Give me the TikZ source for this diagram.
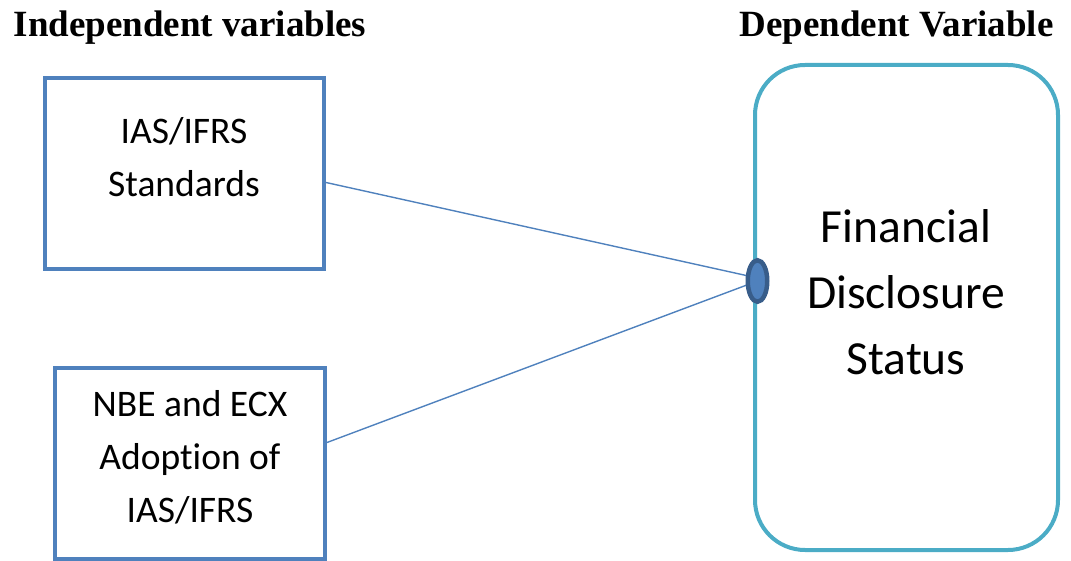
\documentclass[tikz,border=0pt]{standalone}
\usepackage{fontspec}
\setmainfont{Liberation Serif}
\newfontfamily\calib[Ligatures={NoCommon}]{Carlito}
\usetikzlibrary{shapes.geometric}
\definecolor{boxblue}{RGB}{79,129,189}
\definecolor{aqua}{RGB}{75,172,198}
\definecolor{darkblue}{RGB}{56,93,138}
\tikzset{
  varbox/.style={draw=boxblue, line width=4pt, rectangle, inner sep=0pt},
  depbox/.style={draw=aqua, line width=4pt, rectangle, rounded corners=50pt, inner sep=0pt},
  smalltxt/.style={font=\calib\fontsize{37.5}{53}\selectfont, align=center, inner sep=0pt},
  bigtxt/.style={font=\calib\fontsize{47.5}{66}\selectfont, align=center, inner sep=0pt},
  title/.style={font=\bfseries\fontsize{37}{42}\selectfont, inner sep=0pt, anchor=base},
  link/.style={draw=boxblue, line width=1.4pt},
  dotnode/.style={ellipse, draw=darkblue, fill=boxblue, line width=4.5pt, minimum width=19.5pt, minimum height=41.5pt, inner sep=0pt}
}
\begin{document}
\begin{tikzpicture}[x=1pt,y=-1pt]
\useasboundingbox (0,0) rectangle (1071,561);
\node[title] (t1) at (190,36.5) {Independent variables};
\node[title] (t2) at (896.5,36.5) {Dependent Variable};
\node[varbox, minimum width=279pt, minimum height=191pt] (b1) at (184.5,173.5) {};
\node[varbox, minimum width=270pt, minimum height=191pt] (b2) at (190,463.5) {};
\node[depbox, minimum width=303pt, minimum height=485pt] (dep) at (906.5,307.5) {};
\node[smalltxt] (s1) at (184,157) {IAS/IFRS\\Standards};
\node[smalltxt] (s2) at (190,457) {NBE and ECX\\Adoption of\\IAS/IFRS};
\node[bigtxt] (s3) at (906,292) {Financial\\Disclosure\\Status};
\coordinate (hub) at (757.5,281);
\draw[link] ([yshift=-9pt]b1.east) -- ([yshift=3pt]hub);
\draw[link] ([yshift=21pt]b2.east) -- (hub);
\node[dotnode] (dot) at (hub) {};
\end{tikzpicture}
\end{document}
